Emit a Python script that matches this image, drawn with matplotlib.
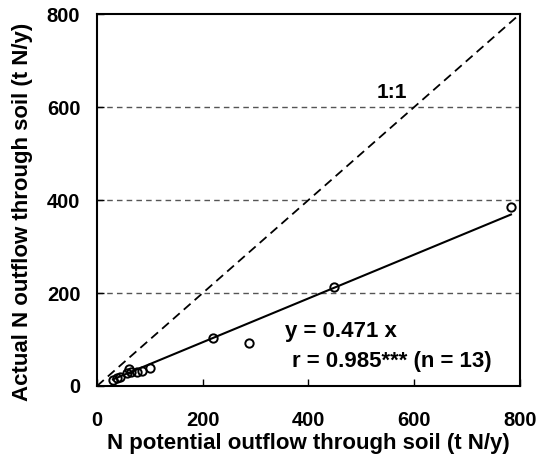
import matplotlib.pyplot as plt
import numpy as np

plt.rcParams['font.family'] = ['Liberation Sans', 'DejaVu Sans']
plt.rcParams['font.weight'] = 'bold'

# potential outflow (x) vs actual outflow (y), t N/y
potential = [30, 38, 43, 57, 61, 64, 76, 85, 100, 219, 288, 448, 783]
actual = [13, 17, 19, 27, 37, 30, 30, 32, 39, 103, 93, 212, 384]
slope = 0.471
yticks = [0, 200, 400, 600, 800]
xticks = [0, 200, 400, 600, 800]

fig = plt.figure(figsize=(5.38, 4.61), dpi=100)
ax = fig.add_axes([0.1803, 0.1627, 0.7862, 0.8069])

# 1:1 line
ax.plot([0, 800], [0, 800], color="black", linestyle=(0, (5, 3)), linewidth=1.3)

# regression through origin
xs = np.array([min(potential), max(potential)])
ax.plot(xs, slope * xs, color="black", linewidth=1.5)

ax.plot(potential, actual, linestyle="", marker="o", markersize=6,
        markerfacecolor="none", markeredgecolor="black", markeredgewidth=1.4)

for v in [200, 400, 600]:
    ax.axhline(v, color="#555555", linestyle=(0, (4, 3)), linewidth=1.0, zorder=0)

ax.text(558, 631, "1:1", fontsize=15, weight="bold", ha="center", va="center")
ax.text(355, 117, "y = 0.471 x", fontsize=16, weight="bold", ha="left", va="center")
ax.text(369, 52, "r = 0.985*** (n = 13)", fontsize=16, weight="bold", ha="left", va="center")

ax.set_xlim(0, 800)
ax.set_ylim(0, 800)
ax.set_xticks(xticks)
ax.set_yticks(yticks)
ax.tick_params(direction="in", length=5, width=1, labelsize=14.5)
ax.tick_params(axis="x", pad=18)
ax.tick_params(axis="y", pad=12)
for lab in ax.get_xticklabels() + ax.get_yticklabels():
    lab.set_fontweight("bold")
for s in ax.spines.values():
    s.set_linewidth(1.5)

ax.set_xlabel("N potential outflow through soil (t N/y)", fontsize=16, weight="bold", labelpad=2)
ax.set_ylabel("Actual N outflow through soil (t N/y)", fontsize=16, weight="bold")
ax.yaxis.set_label_coords(-0.151, 0.468)

fig.savefig("out.png", dpi=100)
